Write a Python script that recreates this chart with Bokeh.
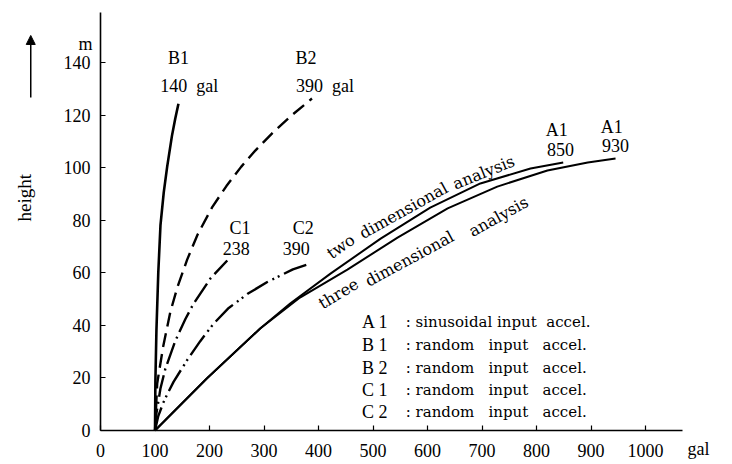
import math
from bokeh.plotting import figure
from bokeh.models import Range1d, Arrow, NormalHead, LinearAxis, FixedTicker
from bokeh.core.properties import value
from bokeh.embed import file_html
from bokeh.resources import INLINE

# ---------------- data ----------------
x_ticks = [0, 100, 200, 300, 400, 500, 600, 700, 800, 900, 1000]
y_ticks = [0, 20, 40, 60, 80, 100, 120, 140]

# B1 : random input accel. (140 gal)
b1_x = [100, 100.7, 102.6, 106, 110, 116, 122.4, 131, 137, 143]
b1_y = [0, 18.6, 38, 60, 78, 90.5, 100.5, 112, 118.5, 124.3]

# B2 : random input accel. (390 gal)
b2_x = [100, 104, 115, 128, 141, 159, 178, 205, 231, 258, 284, 317, 353, 388]
b2_y = [0, 17.9, 32, 45, 54.5, 65, 74.5, 85, 93, 100.3, 106.5, 113.5, 120.3, 126.3]

# C1 : random input accel. (238 gal)
c1_x = [100, 102.6, 110, 119, 137, 156, 170, 201.5, 232.6]
c1_y = [0, 6.5, 16, 23.5, 34, 42.5, 48, 57.8, 64.7]

# C2 : random input accel. (390 gal)
c2_x = [100, 106, 115, 123, 134, 159, 183, 207, 234, 270, 306, 353, 385]
c2_y = [0, 5.5, 10.5, 14, 18.5, 26.8, 34, 40.5, 46.4, 52, 56.5, 61.3, 63.5]

# A1 : sinusoidal input accel., two dimensional analysis (850 gal)
a2d_x = [100, 195, 293, 348, 422, 514, 605, 697, 789, 849]
a2d_y = [0, 19.8, 38.8, 48.3, 59.7, 73, 84.8, 94, 99.7, 102]

# A1 : sinusoidal input accel., three dimensional analysis (930 gal)
a3d_x = [100, 195, 293, 366, 453, 545, 637, 728, 820, 894, 945]
a3d_y = [0, 19.8, 38.8, 50.6, 61.2, 73.4, 84.5, 92.8, 98.9, 102, 103.5]

# curve labels
curve_label_text = ["B1", "140\u00a0 gal", "B2", "390\u00a0 gal", "C1", "238", "C2", "390",
                    "A1", "850", "A1", "930"]
curve_label_x = [143, 163, 377, 412, 256, 249, 372, 359, 837, 844, 938, 945]
curve_label_y = [141.9, 131.2, 141.9, 131.2, 77.2, 69.2, 77.2, 69.2, 114.5, 106.9, 115.3, 108.4]

# words written along the A1 curves
two_words = ["two", "dimensional", "analysis"]
two_x = [441, 556, 703]
two_y = [70.0, 83.7, 98.2]
two_angle_deg = [35, 29, 22]

three_words = ["three", "dimensional", "analysis"]
three_x = [436.7, 567, 730.3]
three_y = [52.1, 65.4, 81.4]
three_angle_deg = [31, 28.5, 29]

# legend block
legend_keys = ["A 1", "B 1", "B 2", "C 1", "C 2"]
legend_desc = [": sinusoidal input\u00a0 accel.",
               ": random\u00a0\u00a0 input\u00a0\u00a0 accel.",
               ": random\u00a0\u00a0 input\u00a0\u00a0 accel.",
               ": random\u00a0\u00a0 input\u00a0\u00a0 accel.",
               ": random\u00a0\u00a0 input\u00a0\u00a0 accel."]
legend_y = [41.1, 32.7, 23.9, 15.6, 7.2]
legend_key_x = 480
legend_desc_x = 560

SERIF = "Liberation Serif"
WIDE = "DejaVu Serif"

W, H = 732, 464
p = figure(width=W, height=H, output_backend="svg", toolbar_location=None,
           x_range=Range1d(-183.5, 1159.6), y_range=Range1d(-12.93, 163.6),
           x_axis_location=None, y_axis_location=None, min_border=0)
p.outline_line_color = None
p.grid.visible = False
p.background_fill_color = "white"
p.border_fill_color = "white"

xaxis = LinearAxis(fixed_location=0, bounds=(0, 1068), ticker=FixedTicker(ticks=x_ticks))
yaxis = LinearAxis(fixed_location=0, bounds=(0, 159), ticker=FixedTicker(ticks=y_ticks))
for ax in (xaxis, yaxis):
    ax.axis_line_color = "black"
    ax.axis_line_width = 1.6
    ax.major_tick_in = 5
    ax.major_tick_out = 0
    ax.major_tick_line_width = 1.2
    ax.minor_tick_line_color = None
    ax.major_label_text_font = SERIF
    ax.major_label_text_font_size = "18px"
    ax.major_label_text_color = "black"
xaxis.major_label_standoff = 13
yaxis.major_label_standoff = 10
p.add_layout(xaxis, "below")
p.add_layout(yaxis, "left")

lw = 2.4
p.line(b1_x, b1_y, line_color="black", line_width=2.6)
p.line(b2_x, b2_y, line_color="black", line_width=lw, line_dash="14 7")
p.line(c1_x, c1_y, line_color="black", line_width=lw, line_dash="22 5 2 5")
p.line(c2_x, c2_y, line_color="black", line_width=lw, line_dash="24 5 2 4 2 5")
p.line(a2d_x, a2d_y, line_color="black", line_width=2.0)
p.line(a3d_x, a3d_y, line_color="black", line_width=2.0)

p.text(x=curve_label_x, y=curve_label_y, text=curve_label_text,
       text_font=value(SERIF), text_font_size="18px", text_color="black",
       text_align="center", text_baseline="middle")

p.text(x=two_x, y=two_y, text=two_words, angle=[math.radians(a) for a in two_angle_deg],
       text_font=value(WIDE), text_font_size="16px", text_color="black",
       text_align="center", text_baseline="middle")
p.text(x=three_x, y=three_y, text=three_words, angle=[math.radians(a) for a in three_angle_deg],
       text_font=value(WIDE), text_font_size="16px", text_color="black",
       text_align="center", text_baseline="middle")

p.text(x=[legend_key_x] * len(legend_keys), y=legend_y, text=legend_keys,
       text_font=value(SERIF), text_font_size="18px", text_color="black",
       text_align="left", text_baseline="middle")
p.text(x=[legend_desc_x] * len(legend_desc), y=legend_y, text=legend_desc,
       text_font=value(WIDE), text_font_size="15px", text_color="black",
       text_align="left", text_baseline="middle")

# texts around the axes (inside the full-canvas frame)
p.text(x=[-139.4], y=[88.6], text=["height"], angle=math.pi / 2,
       text_font=value(SERIF), text_font_size="19px", text_color="black",
       text_align="center", text_baseline="middle")
p.text(x=[-27.5], y=[147.2], text=["m"],
       text_font=value(SERIF), text_font_size="18px", text_color="black",
       text_align="center", text_baseline="middle")
p.text(x=[1097], y=[-7.0], text=["gal"],
       text_font=value(SERIF), text_font_size="18px", text_color="black",
       text_align="center", text_baseline="middle")
p.add_layout(Arrow(end=NormalHead(size=9, fill_color="black", line_color="black"),
                   x_start=-128, y_start=126.7, x_end=-128, y_end=150.3,
                   line_color="black", line_width=1.5))

open("out.html", "w").write(file_html(p, INLINE))
